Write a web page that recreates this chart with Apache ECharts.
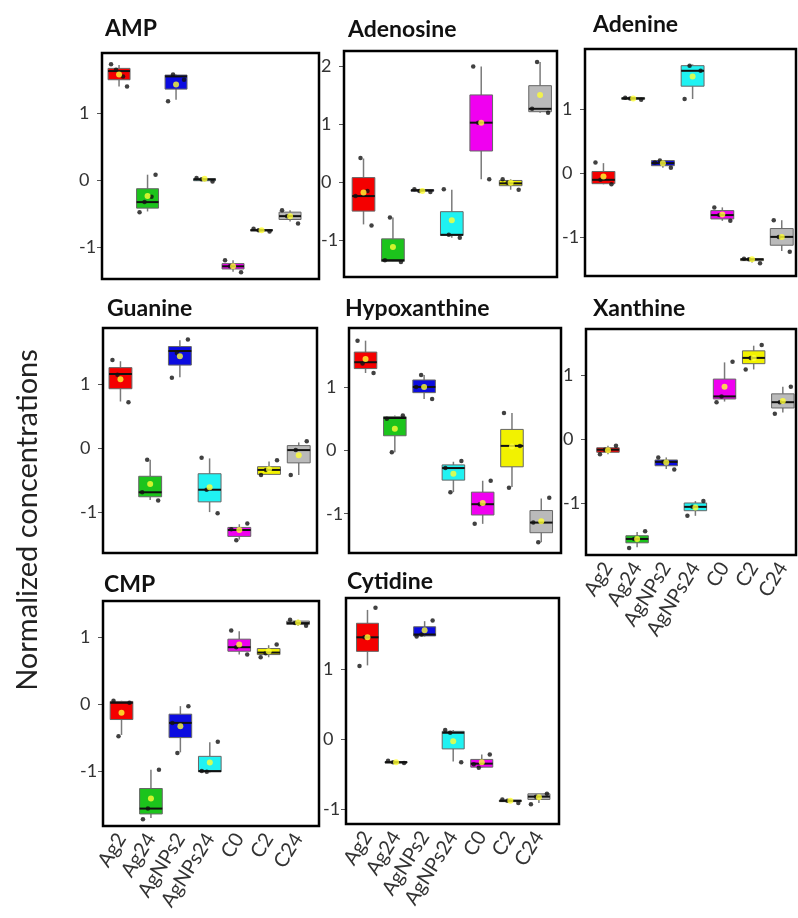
<!DOCTYPE html>
<html><head><meta charset="utf-8">
<script src="https://cdn.jsdelivr.net/npm/echarts@6/dist/echarts.min.js"></script>
<style>html,body{margin:0;padding:0;background:#fff}#c{width:798px;height:918px}</style>
</head><body><div id="c"></div>
<script>
// ---------- DATA ----------
const categories = ['Ag2', 'Ag24', 'AgNPs2', 'AgNPs24', 'C0', 'C2', 'C24'];

const ticksAMP = [-1, 0, 1];
const ticksAdenosine = [-1, 0, 1, 2];
const ticksStd = [-1, 0, 1];

// boxes: [min, Q1, median, Q3, max]
const ampBox = [[1.40,1.50,1.63,1.67,1.72],[-0.47,-0.42,-0.33,-0.13,0.08],[1.20,1.36,1.55,1.57,1.58],[-0.02,-0.01,0.01,0.02,0.03],[-1.37,-1.33,-1.29,-1.25,-1.20],[-0.77,-0.76,-0.75,-0.74,-0.73],[-0.62,-0.59,-0.54,-0.48,-0.45]];
const ampMean = [1.58,-0.24,1.43,0.02,-1.29,-0.75,-0.54];
const ampPts = [[1.73,1.40,1.65,1.55],[-0.48,0.08,-0.33,-0.25],[1.18,1.50,1.58],[0.03,-0.02,0.01],[-1.20,-1.38,-1.29],[-0.73,-0.77,-0.75],[-0.45,-0.65,-0.54]];

const adenosineBox = [[-0.73,-0.50,-0.24,0.08,0.41],[-1.38,-1.37,-1.35,-0.98,-0.61],[-0.17,-0.15,-0.14,-0.13,-0.12],[-0.96,-0.92,-0.91,-0.51,-0.13],[0.05,0.54,1.03,1.51,2.00],[-0.13,-0.06,-0.02,0.03,0.05],[1.20,1.22,1.27,1.67,2.08]];
const adenosineMean = [-0.18,-1.12,-0.15,-0.66,1.03,-0.01,1.51];
const adenosinePts = [[-0.24,-0.75,0.42,-0.15],[-1.35,-1.38,-0.61],[-0.12,-0.17,-0.15],[-0.12,-0.96,-0.91],[2.00,0.05,1.03],[0.05,-0.13,-0.01],[1.27,1.20,2.08]];

const adenineBox = [[-0.17,-0.16,-0.10,0.03,0.16],[1.14,1.16,1.17,1.18,1.19],[0.09,0.12,0.16,0.20,0.21],[1.16,1.36,1.60,1.68,1.70],[-0.74,-0.71,-0.65,-0.58,-0.53],[-1.39,-1.36,-1.34,-1.33,-1.32],[-1.21,-1.12,-0.99,-0.86,-0.73]];
const adenineMean = [-0.05,1.17,0.16,1.51,-0.64,-1.34,-0.99];
const adeninePts = [[0.17,-0.17,-0.10],[1.18,1.15,1.17],[0.17,0.09,0.20],[1.16,1.60,1.68],[-0.53,-0.74,-0.65],[-1.33,-1.40,-1.34],[-0.73,-1.22,-0.99]];

const guanineBox = [[0.73,0.93,1.16,1.26,1.36],[-0.81,-0.76,-0.69,-0.44,-0.18],[1.11,1.30,1.52,1.59,1.69],[-1.00,-0.84,-0.65,-0.40,-0.16],[-1.43,-1.38,-1.28,-1.24,-1.19],[-0.42,-0.41,-0.34,-0.29,-0.21],[-0.42,-0.23,-0.03,0.04,0.09]];
const guanineMean = [1.08,-0.56,1.44,-0.61,-1.28,-0.33,-0.11];
const guaninePts = [[1.38,0.72,1.15],[-0.69,-0.82,-0.18],[1.10,1.70,1.49],[-0.15,-1.02,-0.65],[-1.27,-1.18,-1.44],[-0.42,-0.19,-0.34],[-0.42,0.11,-0.03]];

const hypoxanthineBox = [[1.22,1.29,1.39,1.55,1.73],[-0.03,0.23,0.51,0.53,0.55],[0.81,0.91,1.00,1.11,1.19],[-0.66,-0.47,-0.28,-0.23,-0.18],[-1.16,-1.02,-0.85,-0.66,-0.48],[-0.58,-0.26,0.07,0.33,0.59],[-1.45,-1.30,-1.14,-0.95,-0.76]];
const hypoxanthineMean = [1.44,0.34,1.00,-0.37,-0.83,0.06,-1.12];
const hypoxanthinePts = [[1.73,1.22,1.37],[0.50,0.55,-0.03],[1.00,0.81,1.19],[-0.28,-0.17,-0.66],[-1.16,-0.48,-0.85],[0.59,0.07,-0.59],[-1.14,-0.75,-1.45]];

const xanthineBox = [[-0.23,-0.20,-0.16,-0.13,-0.10],[-1.68,-1.61,-1.55,-1.50,-1.44],[-0.46,-0.41,-0.35,-0.32,-0.28],[-1.19,-1.11,-1.05,-0.99,-0.96],[0.59,0.63,0.67,0.94,1.20],[1.09,1.18,1.27,1.38,1.46],[0.42,0.49,0.58,0.71,0.82]];
const xanthineMean = [-0.17,-1.55,-0.36,-1.06,0.82,1.27,0.60];
const xanthinePts = [[-0.23,-0.10,-0.16],[-1.69,-1.43,-1.55],[-0.28,-0.47,-0.35],[-1.19,-0.96,-1.05],[0.58,1.21,0.67],[1.09,1.47,1.27],[0.40,0.82,0.58]];

const cmpBox = [[-0.46,-0.23,0.02,0.04,0.05],[-1.70,-1.64,-1.56,-1.26,-0.98],[-0.72,-0.50,-0.28,-0.15,-0.03],[-1.02,-1.01,-1.00,-0.78,-0.57],[0.74,0.79,0.85,0.97,1.09],[0.70,0.74,0.77,0.83,0.88],[1.17,1.19,1.21,1.24,1.26]];
const cmpMean = [-0.13,-1.41,-0.33,-0.87,0.89,0.79,1.22];
const cmpPts = [[0.05,0.02,-0.48],[-1.72,-0.98,-1.56],[-0.28,-0.03,-0.73],[-1.00,-0.56,-1.01],[1.10,0.74,0.85],[0.70,0.89,0.76],[1.26,1.17,1.21]];

const cytidineBox = [[1.05,1.25,1.45,1.65,1.84],[-0.35,-0.34,-0.33,-0.32,-0.31],[1.46,1.47,1.49,1.60,1.68],[-0.32,-0.14,0.09,0.11,0.13],[-0.41,-0.40,-0.35,-0.29,-0.22],[-0.90,-0.89,-0.88,-0.87,-0.86],[-0.91,-0.86,-0.82,-0.78,-0.78]];
const cytidineMean = [1.45,-0.33,1.55,-0.03,-0.33,-0.88,-0.83];
const cytidinePts = [[1.04,1.87,1.45],[-0.31,-0.34,-0.33],[1.46,1.69,1.49],[0.13,-0.33,0.09],[-0.36,-0.22,-0.41],[-0.86,-0.91,-0.88],[-0.93,-0.78,-0.82]];

// ---------- STYLE / LAYOUT ----------
const boxColors = ['#f40000', '#1cc41c', '#0c0ce0', '#20f2f2', '#f000f0', '#f2f200', '#bababa'];
const FONT = 'Lato';
const jitter = [-8, 8, -3, 4, 0];

// frame: [left, top, width, height]; plot: [left, width] of the category band area
const panels = [
  {title:'AMP', box:ampBox, mean:ampMean, pts:ampPts, ticks:ticksAMP, yMin:-1.48, yMax:1.90, frame:[102,53,217,226], plot:[104.8,199.5], tpos:[105,17], xl:false},
  {title:'Adenosine', box:adenosineBox, mean:adenosineMean, pts:adenosinePts, ticks:ticksAdenosine, yMin:-1.64, yMax:2.27, frame:[344,51,213,226], plot:[348.8,206], tpos:[348,18], xl:false},
  {title:'Adenine', box:adenineBox, mean:adenineMean, pts:adeninePts, ticks:ticksStd, yMin:-1.60, yMax:1.94, frame:[585,49,211,227], plot:[588.6,208], tpos:[593,13], xl:false},
  {title:'Guanine', box:guanineBox, mean:guanineMean, pts:guaninePts, ticks:ticksStd, yMin:-1.64, yMax:1.88, frame:[103,328,214,225], plot:[105.6,208], tpos:[107,297], xl:false},
  {title:'Hypoxanthine', box:hypoxanthineBox, mean:hypoxanthineMean, pts:hypoxanthinePts, ticks:ticksStd, yMin:-1.62, yMax:1.93, frame:[349,328,212,225], plot:[350.9,205], tpos:[345,297], xl:false},
  {title:'Xanthine', box:xanthineBox, mean:xanthineMean, pts:xanthinePts, ticks:ticksStd, yMin:-1.80, yMax:1.72, frame:[586,329,210,226], plot:[593.4,204], tpos:[593,297], xl:true},
  {title:'CMP', box:cmpBox, mean:cmpMean, pts:cmpPts, ticks:ticksStd, yMin:-1.82, yMax:1.54, frame:[103,601,216,225], plot:[106.8,206], tpos:[104,573], xl:true},
  {title:'Cytidine', box:cytidineBox, mean:cytidineMean, pts:cytidinePts, ticks:ticksStd, yMin:-1.21, yMax:2.01, frame:[346,598,213,226], plot:[353.2,200], tpos:[347,570], xl:true}
];

function renderBox(params, api) {
  const k = api.value(0);
  const p = [1,2,3,4,5].map(d => api.coord([k, api.value(d)]));
  const x = p[0][0];
  const hw = api.size([1, 0])[0] * 0.385;
  const col = boxColors[k];
  return {
    type: 'group',
    children: [
      {type:'line', shape:{x1:x, y1:p[4][1], x2:x, y2:p[3][1]}, style:{stroke:'#7a7a7a', lineWidth:1.5}},
      {type:'line', shape:{x1:x, y1:p[1][1], x2:x, y2:p[0][1]}, style:{stroke:'#7a7a7a', lineWidth:1.5}},
      {type:'rect', shape:{x:x-hw, y:p[3][1], width:hw*2, height:Math.max(p[1][1]-p[3][1], 1.5)}, style:{fill:col, stroke:'#666', lineWidth:1}},
      {type:'line', shape:{x1:x-hw, y1:p[2][1], x2:x+hw, y2:p[2][1]}, style:{stroke:'#111', lineWidth:2}}
    ]
  };
}

const option = {
  backgroundColor: '#fff',
  animation: false,
  title: panels.map(p => ({
    text: p.title, left: p.tpos[0], top: p.tpos[1], padding: 0,
    textStyle: {fontFamily: FONT, fontSize: 23, fontWeight: 'bold', color: '#111'}
  })),
  grid: panels.map(p => ({
    left: p.plot[0], top: p.frame[1], width: p.plot[1], height: p.frame[3], show: false
  })),
  xAxis: panels.map((p, i) => ({
    gridIndex: i, type: 'category', data: categories,
    axisLine: {show: false}, axisTick: {show: false}, splitLine: {show: false},
    axisLabel: {show: p.xl, rotate: 58, fontSize: 20, color: '#333', margin: 9, fontFamily: FONT, interval: 0}
  })),
  yAxis: panels.map((p, i) => ({
    gridIndex: i, type: 'value', min: p.yMin, max: p.yMax, offset: p.plot[0] - p.frame[0],
    axisLine: {show: false}, splitLine: {show: false},
    axisTick: {show: true, length: 5, lineStyle: {color: '#555', width: 1}, customValues: p.ticks},
    axisLabel: {customValues: p.ticks, fontSize: 18, color: '#333', margin: 23, align: 'left', fontFamily: FONT}
  })),
  graphic: [{
    type: 'text', x: 28, y: 520, rotation: Math.PI / 2,
    style: {text: 'Normalized concentrations', font: '29px Lato', fill: '#222',
      align: 'center', verticalAlign: 'middle', textAlign: 'center', textVerticalAlign: 'middle'}
  }].concat(panels.map(p => ({
    type: 'rect', z: 100, silent: true,
    shape: {x: p.frame[0], y: p.frame[1], width: p.frame[2], height: p.frame[3]},
    style: {fill: 'none', stroke: '#000', lineWidth: 2.5}
  }))),
  series: []
};

panels.forEach((p, i) => {
  option.series.push({
    type: 'custom', xAxisIndex: i, yAxisIndex: i, z: 2,
    renderItem: renderBox,
    encode: {x: 0, y: [1, 2, 3, 4, 5]},
    data: p.box.map((b, k) => [k].concat(b))
  });
  const dots = [];
  p.pts.forEach((arr, k) => arr.forEach((v, j) => dots.push({value: [k, v], symbolOffset: [jitter[j % jitter.length], 0]})));
  option.series.push({
    type: 'scatter', xAxisIndex: i, yAxisIndex: i, z: 3,
    symbol: 'circle', symbolSize: 4.5, itemStyle: {color: '#111'},
    data: dots
  });
  option.series.push({
    type: 'scatter', xAxisIndex: i, yAxisIndex: i, z: 4,
    symbol: 'circle', symbolSize: 6, itemStyle: {color: '#ffff33'},
    data: p.mean.map((m, k) => [k, m])
  });
});

const chart = echarts.init(document.getElementById('c'), null, {renderer: 'canvas'});
chart.setOption(option);
</script>
</body></html>
